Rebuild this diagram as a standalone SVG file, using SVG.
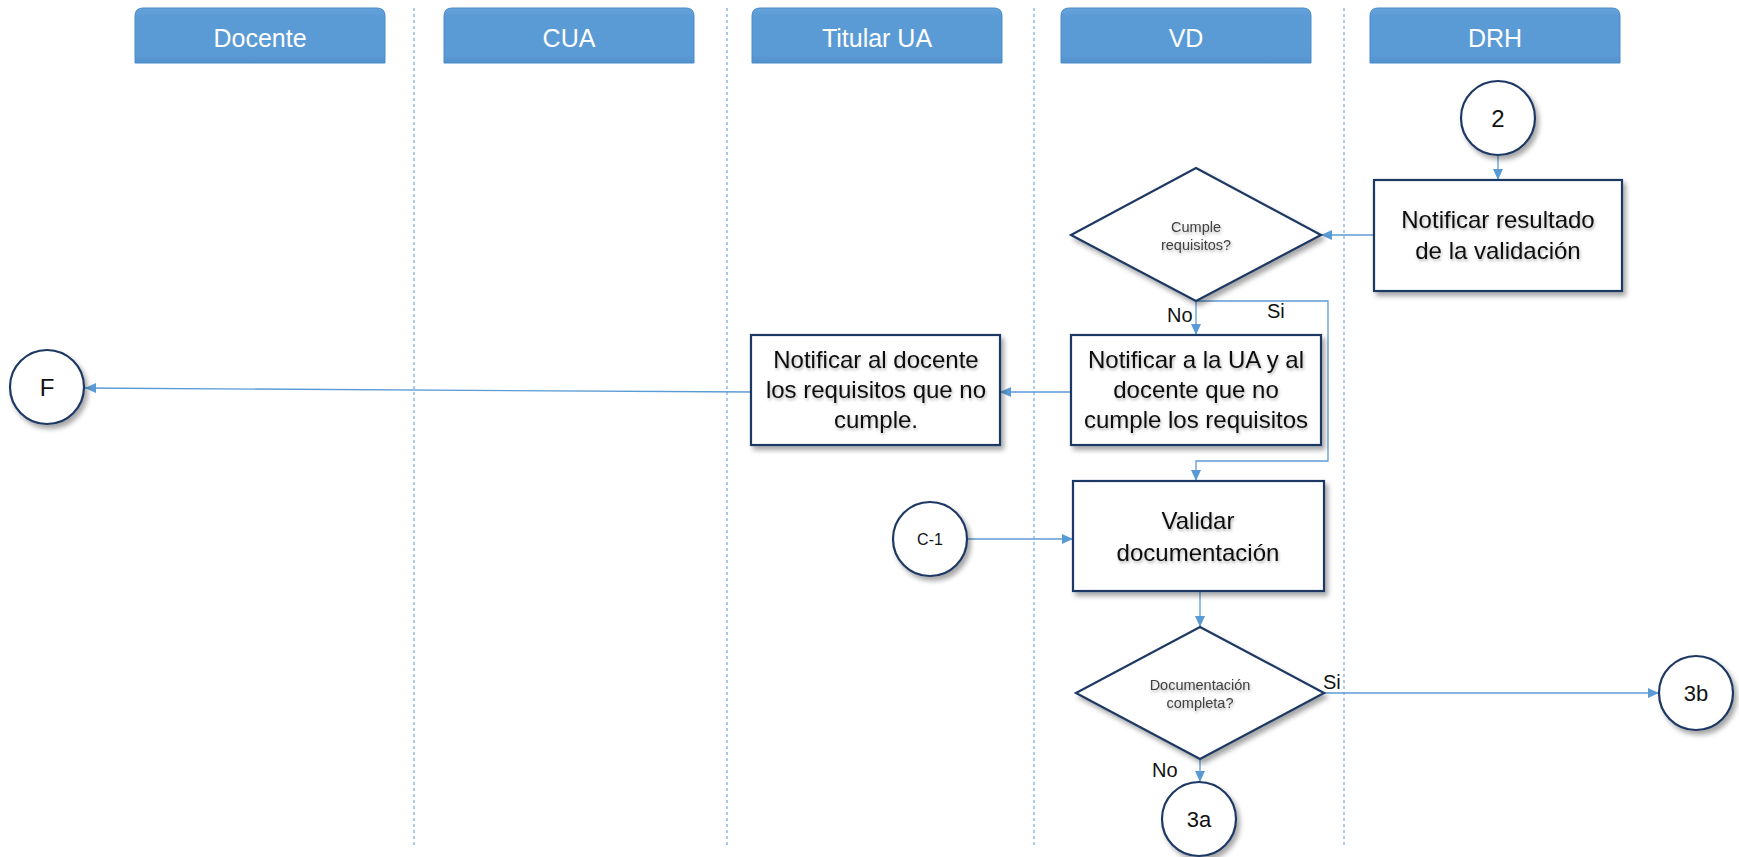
<svg xmlns="http://www.w3.org/2000/svg" width="1739" height="857" viewBox="0 0 1739 857">
<defs>
<style>
.hdr{fill:url(#hg);stroke:#4A8BC9;stroke-width:1}
.hdrt{font-family:"Liberation Sans",Arial,sans-serif;font-size:25px;fill:#ffffff;text-anchor:middle}
.div{stroke:#7DAEE0;stroke-width:1.3;stroke-dasharray:3,3;fill:none}
.shape{fill:#ffffff;stroke:#1F3864;stroke-width:2.2;filter:url(#sh)}
.bt{font-family:"Liberation Sans",Arial,sans-serif;font-size:24px;fill:#111111;text-anchor:middle;filter:url(#tsh)}
.dt{font-family:"Liberation Sans",Arial,sans-serif;font-size:14.5px;fill:#404040;text-anchor:middle;filter:url(#tsh)}
.ct{font-family:"Liberation Sans",Arial,sans-serif;font-size:24px;fill:#111111;text-anchor:middle}
.lbl{font-family:"Liberation Sans",Arial,sans-serif;font-size:20px;fill:#111111}
.con{stroke:#5B9BD5;stroke-width:1.3;fill:none}
.arr{marker-end:url(#ah)}
</style>
<linearGradient id="hg" x1="0" y1="0" x2="0" y2="1">
<stop offset="0" stop-color="#66A3DB"/>
<stop offset="0.15" stop-color="#5B9BD5"/>
<stop offset="0.85" stop-color="#5B9BD5"/>
<stop offset="1" stop-color="#5290CC"/>
</linearGradient>
<filter id="sh" x="-20%" y="-20%" width="150%" height="150%">
<feDropShadow dx="3" dy="4" stdDeviation="2.5" flood-color="#000000" flood-opacity="0.35"/>
</filter>
<filter id="tsh" x="-10%" y="-30%" width="130%" height="170%">
<feDropShadow dx="1" dy="2" stdDeviation="1.5" flood-color="#000000" flood-opacity="0.3"/>
</filter>
<marker id="ah" markerUnits="userSpaceOnUse" markerWidth="11" markerHeight="10" refX="11" refY="5" orient="auto">
<path d="M0,0 L11,5 L0,10 z" fill="#5B9BD5"/>
</marker>
</defs>

<g id="lanes">
<g id="lane-docente">
<path class="hdr" d="M135,63 V16 Q135,8 143,8 H377 Q385,8 385,16 V63 Z"/>
<text class="hdrt" x="260" y="47">Docente</text>
</g>
<g id="lane-cua">
<path class="hdr" d="M444,63 V16 Q444,8 452,8 H686 Q694,8 694,16 V63 Z"/>
<text class="hdrt" x="569" y="47">CUA</text>
</g>
<g id="lane-titular">
<path class="hdr" d="M752,63 V16 Q752,8 760,8 H994 Q1002,8 1002,16 V63 Z"/>
<text class="hdrt" x="877" y="47">Titular UA</text>
</g>
<g id="lane-vd">
<path class="hdr" d="M1061,63 V16 Q1061,8 1069,8 H1303 Q1311,8 1311,16 V63 Z"/>
<text class="hdrt" x="1186" y="47">VD</text>
</g>
<g id="lane-drh">
<path class="hdr" d="M1370,63 V16 Q1370,8 1378,8 H1612 Q1620,8 1620,16 V63 Z"/>
<text class="hdrt" x="1495" y="47">DRH</text>
</g>
<line class="div" x1="414" y1="8" x2="414" y2="848"/>
<line class="div" x1="727" y1="8" x2="727" y2="848"/>
<line class="div" x1="1034" y1="8" x2="1034" y2="848"/>
<line class="div" x1="1344" y1="8" x2="1344" y2="848"/>
</g>

<g id="connectors">
<line class="con arr" x1="1498" y1="155" x2="1498" y2="180"/>
<line class="con arr" x1="1374" y1="235" x2="1321" y2="235"/>
<line class="con arr" x1="1196" y1="301" x2="1196" y2="335"/>
<path class="con arr" d="M1196,301 H1328 V461 H1196 V481"/>
<line class="con arr" x1="1071" y1="392" x2="1000" y2="392"/>
<line class="con arr" x1="752" y1="392" x2="85" y2="388"/>
<line class="con arr" x1="966" y1="539" x2="1073" y2="539"/>
<line class="con arr" x1="1200" y1="591" x2="1200" y2="627"/>
<line class="con arr" x1="1324" y1="693" x2="1659" y2="693"/>
<line class="con arr" x1="1200" y1="759" x2="1200" y2="782"/>
<text class="lbl" x="1167" y="322">No</text>
<text class="lbl" x="1267" y="318">Si</text>
<text class="lbl" x="1323" y="689">Si</text>
<text class="lbl" x="1152" y="777">No</text>
</g>

<g id="node-2">
<circle class="shape" cx="1498" cy="118" r="37"/>
<text class="ct" x="1498" y="127">2</text>
</g>

<g id="node-notificar-resultado">
<rect class="shape" x="1374" y="180" width="248" height="111"/>
<text class="bt" x="1498" y="228">Notificar resultado</text>
<text class="bt" x="1498" y="259">de la validación</text>
</g>

<g id="node-cumple">
<polygon class="shape" points="1196,168 1321,235 1196,301 1071,235"/>
<text class="dt" x="1196" y="232">Cumple</text>
<text class="dt" x="1196" y="250">requisitos?</text>
</g>

<g id="node-notificar-ua">
<rect class="shape" x="1071" y="335" width="250" height="110"/>
<text class="bt" x="1196" y="368">Notificar a la UA y al</text>
<text class="bt" x="1196" y="398">docente que no</text>
<text class="bt" x="1196" y="428">cumple los requisitos</text>
</g>

<g id="node-notificar-docente">
<rect class="shape" x="751" y="335" width="249" height="110"/>
<text class="bt" x="876" y="368">Notificar al docente</text>
<text class="bt" x="876" y="398">los requisitos que no</text>
<text class="bt" x="876" y="428">cumple.</text>
</g>

<g id="node-f">
<circle class="shape" cx="47" cy="387" r="37"/>
<text class="ct" x="47" y="396">F</text>
</g>

<g id="node-c1">
<circle class="shape" cx="930" cy="539" r="37"/>
<text class="ct" x="930" y="545" style="font-size:16px">C-1</text>
</g>

<g id="node-validar">
<rect class="shape" x="1073" y="481" width="251" height="110"/>
<text class="bt" x="1198" y="529">Validar</text>
<text class="bt" x="1198" y="561">documentación</text>
</g>

<g id="node-doc-completa">
<polygon class="shape" points="1200,627 1324,693 1200,759 1076,693"/>
<text class="dt" x="1200" y="690">Documentación</text>
<text class="dt" x="1200" y="708">completa?</text>
</g>

<g id="node-3b">
<circle class="shape" cx="1696" cy="693" r="37"/>
<text class="ct" x="1696" y="701" style="font-size:22px">3b</text>
</g>

<g id="node-3a">
<circle class="shape" cx="1199" cy="819" r="37"/>
<text class="ct" x="1199" y="827" style="font-size:22px">3a</text>
</g>
</svg>
